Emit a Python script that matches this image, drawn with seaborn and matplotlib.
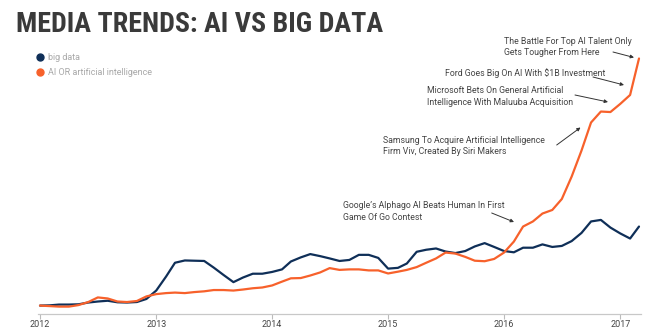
import numpy as np
import pandas as pd
import matplotlib
matplotlib.use("Agg")
import matplotlib.pyplot as plt
from matplotlib.lines import Line2D
import seaborn as sns

# ---------------- data (monthly index, Jan 2012 - Mar 2017) ----------------
months = pd.date_range("2012-01-01", periods=63, freq="MS")
big_data = [3.1, 3.2, 3.5, 3.5, 3.6, 4.3, 4.7, 5.0, 4.4, 4.3, 4.5, 5.7,
            9.0, 14.5, 19.9, 20.8, 20.7, 20.6, 18.0, 15.1, 12.3, 14.1, 15.6, 15.6,
            16.3, 17.3, 20.4, 22.0, 23.3, 22.5, 21.6, 20.6, 21.0, 23.0, 23.0, 21.8,
            17.6, 17.9, 19.6, 24.2, 25.0, 25.5, 24.3, 23.7, 24.5, 26.3, 27.6, 26.1,
            24.5, 24.0, 25.8, 25.8, 27.1, 26.1, 26.5, 28.4, 31.6, 36.1, 36.7, 33.7,
            31.4, 29.4, 34.1]
ai = [3.1, 2.9, 2.7, 2.7, 3.3, 4.5, 6.3, 5.9, 4.7, 4.5, 4.9, 6.7,
      7.6, 8.0, 8.2, 8.0, 8.4, 8.7, 9.2, 9.2, 9.0, 9.4, 9.9, 10.2,
      11.0, 12.5, 13.8, 13.9, 14.9, 16.1, 17.8, 17.1, 17.3, 17.3, 16.9, 16.9,
      15.7, 16.4, 17.1, 18.2, 19.9, 21.6, 23.9, 23.5, 22.2, 20.7, 20.5, 21.4,
      23.9, 28.2, 34.1, 36.1, 39.2, 40.6, 44.9, 53.7, 63.9, 74.9, 79.2, 79.0,
      82.2, 85.7, 100.0]
series_names = ["big data", "AI OR artificial intelligence"]
series_colors = ["#0f2f58", "#f7612b"]
year_ticks = ["2012", "2013", "2014", "2015", "2016", "2017"]

annotations = [
    "The Battle For Top AI Talent Only\nGets Tougher From Here",
    "Ford Goes Big On AI With $1B Investment",
    "Microsoft Bets On General Artificial\nIntelligence With Maluuba Acquisition",
    "Samsung To Acquire Artificial Intelligence\nFirm Viv, Created By Siri Makers",
    "Google\u2019s Alphago AI Beats Human In First\nGame Of Go Contest",
]

df = pd.DataFrame({
    "date": list(months) * 2,
    "value": big_data + ai,
    "term": [series_names[0]] * len(months) + [series_names[1]] * len(months),
})

# ---------------- figure ----------------
sns.set_theme(style="white")
plt.rcParams["font.family"] = ["Roboto", "DejaVu Sans"]

W, H = 650, 329
fig = plt.figure(figsize=(W / 100, H / 100), dpi=100)
fig.patch.set_facecolor("white")

ax_left, ax_right = 38.1, 640.9
ax_bottom, ax_top = 313.5, 313.5 - 105 * 2.55
ax = fig.add_axes([ax_left / W, (H - ax_bottom) / H,
                   (ax_right - ax_left) / W, (ax_bottom - ax_top) / H])

sns.lineplot(data=df, x="date", y="value", hue="term",
             palette=dict(zip(series_names, series_colors)),
             linewidth=1.6, ax=ax, legend=False)
for ln in ax.lines:
    ln.set_solid_joinstyle("round")
    ln.set_clip_on(False)

ax.set_xlim(pd.Timestamp("2011-12-26"), pd.Timestamp("2017-03-07"))
ax.set_ylim(0, 105)
ax.set_xlabel("")
ax.set_ylabel("")
ax.set_yticks([])
ax.set_xticks([pd.Timestamp(f"{y}-01-01") for y in year_ticks])
ax.set_xticklabels(year_ticks)
ax.tick_params(axis="x", length=3.5, width=0.8, color="#bbbbbb",
               labelsize=6.5, labelcolor="#444444", pad=1.0, bottom=True)
for s in ["top", "right", "left"]:
    ax.spines[s].set_visible(False)
ax.spines["bottom"].set_color("#c8c8c8")
ax.spines["bottom"].set_linewidth(0.9)
ax.set_facecolor("white")

# ---------------- title ----------------
fig.text(16 / W, (H - 31.5) / H, "MEDIA TRENDS: AI VS BIG DATA",
         fontsize=20.2, fontweight="bold", color="#3a3a3a",
         family=["Roboto Condensed", "DejaVu Sans"],
         ha="left", va="baseline")

# ---------------- legend ----------------
handles = [Line2D([0], [0], marker="o", linestyle="none", markersize=5,
                  markerfacecolor=c, markeredgecolor=c) for c in series_colors]
leg = fig.legend(handles, series_names, loc="upper left",
                 bbox_to_anchor=(34.5 / W, (H - 53.5) / H), frameon=False,
                 fontsize=6.5, handletextpad=0.3, labelspacing=0.6,
                 borderaxespad=0, borderpad=0, handlelength=1.2)
for t in leg.get_texts():
    t.set_color("#a8a8a8")

# ---------------- annotations ----------------
text_pos = [(504, 47.0), (445, 72.7), (426.7, 96.3), (383, 145.8), (342.7, 211.6)]
arrows = [((613, 52), (634, 57.5)),
          ((593, 77), (624, 85)),
          ((575, 95), (608, 102)),
          ((556.7, 145), (580.5, 127.5)),
          ((491.7, 213), (514, 222))]
for txt, (tx, ty) in zip(annotations, text_pos):
    fig.text(tx / W, (H - ty) / H, txt, fontsize=6.3, color="#444444",
             ha="left", va="center", linespacing=1.35)
for (sx, sy), (ex, ey) in arrows:
    ax.annotate("", xy=(ex, H - ey), xycoords="figure pixels",
                xytext=(sx, H - sy), textcoords="figure pixels",
                arrowprops=dict(arrowstyle="-|>", color="#333333", lw=0.7,
                                mutation_scale=5, shrinkA=0, shrinkB=0))

fig.savefig("out.png", dpi=100, facecolor="white")
